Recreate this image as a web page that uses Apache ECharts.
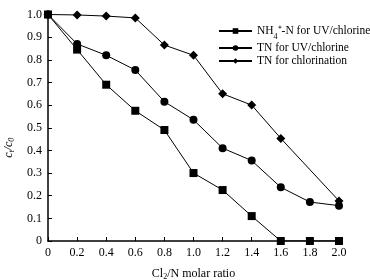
<!DOCTYPE html>
<html>
<head>
<meta charset="utf-8">
<script src="https://cdn.jsdelivr.net/npm/echarts@6/dist/echarts.min.js"></script>
<style>
html,body{margin:0;padding:0;background:#fff;}
#chart{width:370px;height:280px;}
</style>
</head>
<body>
<div id="chart"></div>
<script>
var ratios = [0, 0.2, 0.4, 0.6, 0.8, 1.0, 1.2, 1.4, 1.6, 1.8, 2.0];
var nh4UV = [1.0, 0.845, 0.69, 0.575, 0.49, 0.30, 0.225, 0.11, 0, 0, 0];
var tnUV = [1.0, 0.87, 0.82, 0.755, 0.615, 0.535, 0.41, 0.355, 0.237, 0.172, 0.156];
// no measurement at 1.8 for chlorination
var tnChlor = [1.0, 0.998, 0.993, 0.985, 0.865, 0.82, 0.65, 0.60, 0.453, null, 0.177];
var seriesNames = ['NH4-N for UV/chlorine', 'TN for UV/chlorine', 'TN for chlorination'];
var symbols = ['rect', 'circle', 'diamond'];
var symbolSizes = [8, 8, 9];

var font = 'Liberation Serif';
var chart = echarts.init(document.getElementById('chart'));

function pairs(ys){
    return ratios.map(function(x, i){ return [x, ys[i]]; });
}

var allData = [nh4UV, tnUV, tnChlor];
var series = allData.map(function(ys, i){
    return {
        type: 'line',
        name: seriesNames[i],
        data: pairs(ys),
        connectNulls: true,
        symbol: symbols[i],
        symbolSize: symbolSizes[i],
        lineStyle: {color: '#000', width: 1},
        itemStyle: {color: '#000'},
        z: 3 - i
    };
});

var option = {
    animation: false,
    grid: {left: 48, right: 31, top: 14.5, bottom: 39, outerBoundsMode: 'none', containLabel: false},
    legend: {
        data: seriesNames,
        orient: 'vertical',
        left: 213,
        top: 20,
        itemGap: 1,
        itemWidth: 33,
        itemHeight: 7,
        textStyle: {
            fontFamily: font, fontSize: 11.5, color: '#000',
            rich: {
                sub: {fontFamily: font, fontSize: 8, color: '#000', verticalAlign: 'bottom', padding: [0, 0, -4, 0]},
                t: {fontFamily: font, fontSize: 11.5, color: '#000'}
            }
        },
        formatter: function(name){
            if (name.indexOf('NH4') === 0) {
                return '{t|NH}{sub|4}{t|⁺-N for UV/chlorine}';
            }
            return name;
        }
    },
    xAxis: {
        type: 'value',
        min: 0, max: 2, interval: 0.2,
        name: '{t|Cl}{s|2}{t|/N molar ratio}',
        nameLocation: 'middle',
        nameGap: 26,
        nameTextStyle: {
            rich: {
                t: {fontFamily: font, fontSize: 12, color: '#000'},
                s: {fontFamily: font, fontSize: 8, color: '#000', padding: [6, 0, 0, 0]}
            }
        },
        axisLine: {lineStyle: {color: '#000', width: 1.5}},
        axisTick: {inside: true, length: 4, lineStyle: {color: '#000'}},
        axisLabel: {fontFamily: font, fontSize: 12, color: '#000', margin: 6,
            formatter: function(v){ return v === 0 ? '0' : v.toFixed(1); }},
        splitLine: {show: false}
    },
    yAxis: {
        type: 'value',
        min: 0, max: 1, interval: 0.1,
        name: '{i|c}{s|t}{i|/c}{s|0}',
        nameLocation: 'middle',
        nameGap: 30,
        nameTextStyle: {
            padding: [0, 40, 0, 0],
            rich: {
                i: {fontFamily: font, fontStyle: 'italic', fontSize: 12, color: '#000'},
                s: {fontFamily: font, fontStyle: 'italic', fontSize: 8, color: '#000', padding: [6, 0, 0, 0]}
            }
        },
        axisLine: {show: true, lineStyle: {color: '#000', width: 1.5}},
        axisTick: {show: true, inside: true, length: 4, lineStyle: {color: '#000'}},
        axisLabel: {fontFamily: font, fontSize: 12, color: '#000', margin: 6,
            formatter: function(v){ return v === 0 ? '0' : v.toFixed(1); }},
        splitLine: {show: false}
    },
    series: series
};
chart.setOption(option);
</script>
</body>
</html>
